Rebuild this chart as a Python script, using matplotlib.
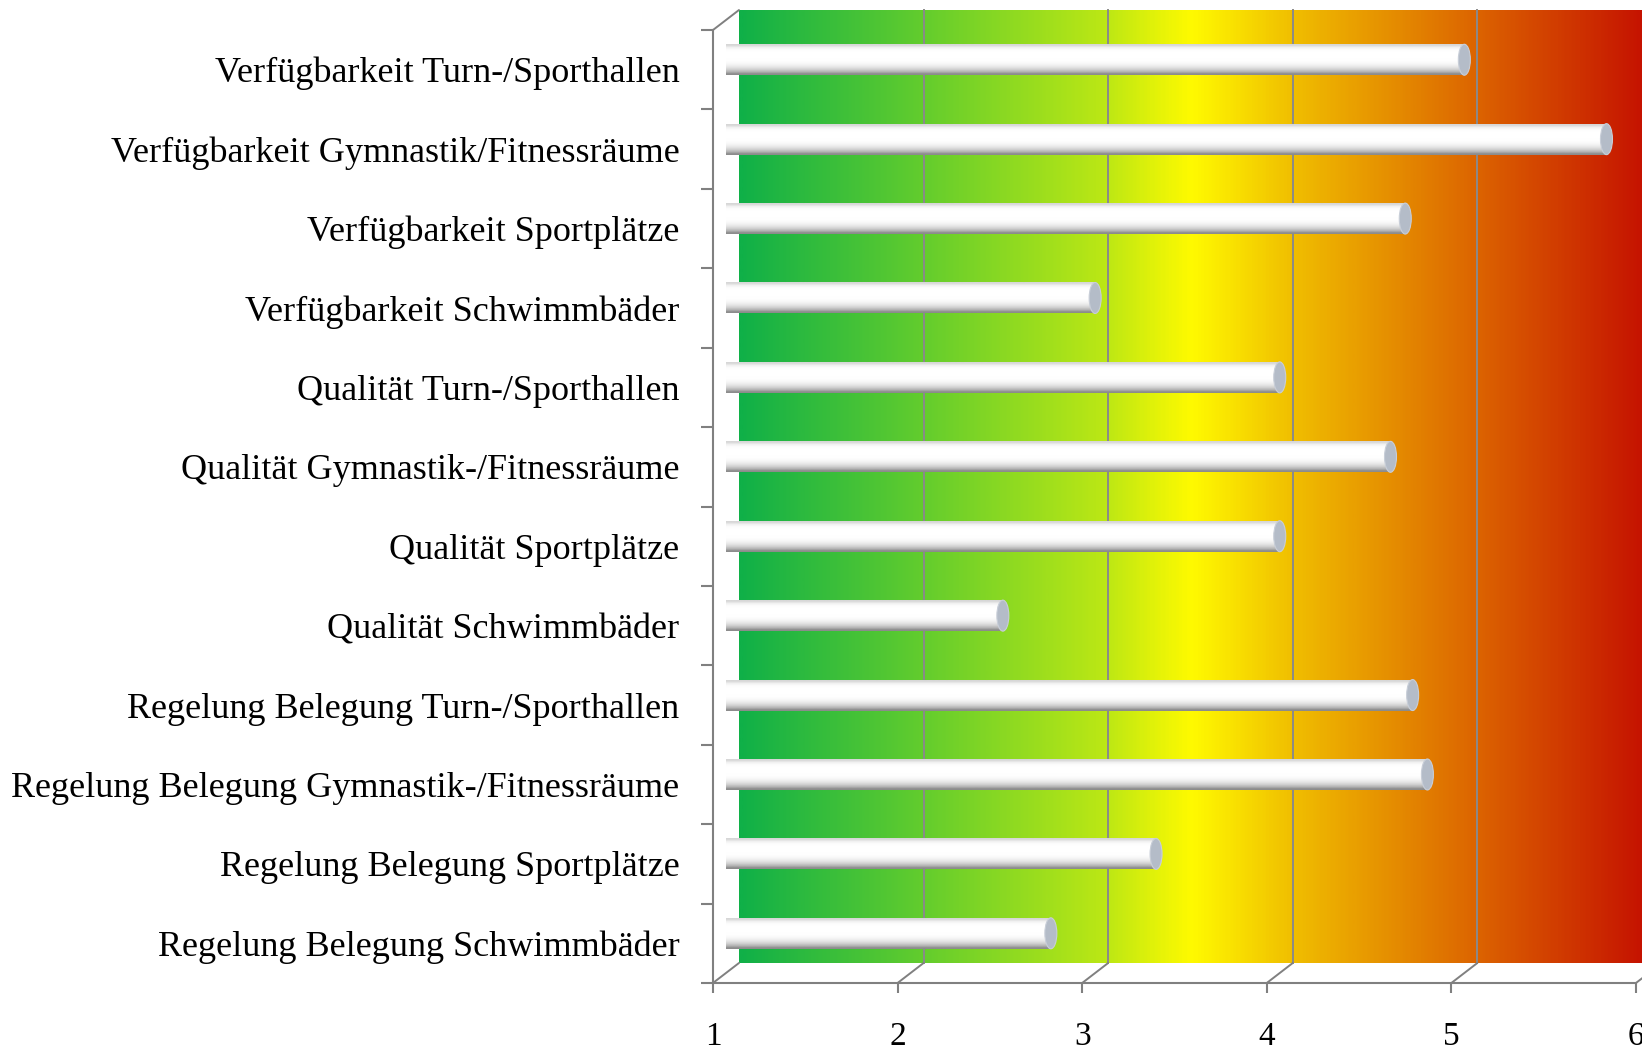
import numpy as np
import matplotlib
matplotlib.use('Agg')
import matplotlib.pyplot as plt
import matplotlib.transforms as mtransforms
from matplotlib.patches import Ellipse
from matplotlib.colors import LinearSegmentedColormap

# data (grades 1 = good ... 6 = bad)
categories = [
    'Verfügbarkeit Turn-/Sporthallen',
    'Verfügbarkeit Gymnastik/Fitnessräume',
    'Verfügbarkeit Sportplätze',
    'Verfügbarkeit Schwimmbäder',
    'Qualität Turn-/Sporthallen',
    'Qualität Gymnastik-/Fitnessräume',
    'Qualität Sportplätze',
    'Qualität Schwimmbäder',
    'Regelung Belegung Turn-/Sporthallen',
    'Regelung Belegung Gymnastik-/Fitnessräume',
    'Regelung Belegung Sportplätze',
    'Regelung Belegung Schwimmbäder',
]
values = [5.0, 5.77, 4.68, 3.0, 4.0, 4.6, 4.0, 2.5, 4.72, 4.8, 3.33, 2.76]
xticks = [1, 2, 3, 4, 5, 6]

# back wall colour ramp (green -> yellow -> red)
wall_stops = [1.0, 2.0, 3.0, 3.45, 4.0, 5.0, 6.0]
wall_colors = ['#10b048', '#64cd2d', '#bee814', '#fffa00', '#f0be00', '#dc6400', '#c30a00']

plt.rcParams['font.family'] = ['Liberation Serif', 'DejaVu Serif']

fig = plt.figure(figsize=(16.42, 10.5), dpi=100)
ax = fig.add_axes([0.4342, 0.0638, 0.5621, 0.9076])

n = len(categories)
xmin, xmax = xticks[0], xticks[-1]

# 3d depth offsets
depth = ax.transData + mtransforms.ScaledTranslation(0.26, 0.20, fig.dpi_scale_trans)
mid = ax.transData + mtransforms.ScaledTranslation(0.13, 0.10, fig.dpi_scale_trans)

#%% back wall
pos = [(s - xmin) / (xmax - xmin) for s in wall_stops]
wall_cmap = LinearSegmentedColormap.from_list('wall', list(zip(pos, wall_colors)))
grad = np.linspace(0, 1, 600).reshape(1, -1)
ax.imshow(grad, cmap=wall_cmap, aspect='auto', extent=(xmin, xmax, n - 0.5, -0.5),
          transform=depth, clip_on=False, zorder=0, interpolation='bilinear')

for x in xticks[1:-1]:
    ax.plot([x, x], [-0.5, n - 0.5], transform=depth, color='#8a8a8a', lw=1.4,
            clip_on=False, zorder=1)

# floor / side diagonals
for x in xticks:
    ax.annotate('', xy=(x, n - 0.5), xytext=(26, 20), textcoords='offset pixels',
                arrowprops=dict(arrowstyle='-', color='#808080', lw=1.4,
                                shrinkA=0, shrinkB=0),
                annotation_clip=False, zorder=1)
ax.annotate('', xy=(xmin, -0.5), xytext=(26, 20), textcoords='offset pixels',
            arrowprops=dict(arrowstyle='-', color='#808080', lw=1.4,
                            shrinkA=0, shrinkB=0),
            annotation_clip=False, zorder=1)

#%% cylinders
h = 0.39
prof = np.array([
    [215, 215, 215], [240, 240, 240], [252, 252, 252], [255, 255, 255],
    [255, 255, 255], [255, 255, 255], [255, 255, 255], [254, 254, 254],
    [250, 250, 250], [242, 242, 242], [228, 228, 228], [208, 208, 208],
    [180, 180, 180], [140, 140, 140],
]) / 255.0
bar_img = prof.reshape(-1, 1, 3)
for i, v in enumerate(values):
    ax.imshow(bar_img, aspect='auto', extent=(xmin, v, i + h / 2, i - h / 2),
              transform=mid, clip_on=False, zorder=3, interpolation='bilinear')
    ax.add_patch(Ellipse((v, i), width=0.065, height=h, transform=mid,
                         facecolor='#b4bcc8', edgecolor='#c8ced8', lw=0.8,
                         zorder=4, clip_on=False))

ax.set_xlim(xmin, xmax)
ax.set_ylim(n - 0.5, -0.5)

#%% axes styling
for s in ['top', 'right']:
    ax.spines[s].set_visible(False)
for s in ['left', 'bottom']:
    ax.spines[s].set_color('#808080')
    ax.spines[s].set_linewidth(1.5)
    ax.spines[s].set_zorder(5)

ax.set_yticks(np.arange(-0.5, n, 1.0))
ax.set_yticklabels([])
ax.set_yticks(np.arange(n), minor=True)
ax.set_yticklabels(categories, minor=True, fontsize=26)
ax.tick_params(axis='y', which='major', length=9, width=1.5, color='#808080')
ax.tick_params(axis='y', which='minor', length=0, pad=24)

ax.set_xticks(xticks)
ax.set_xticklabels([str(t) for t in xticks], fontsize=24)
ax.tick_params(axis='x', length=7, width=1.5, color='#808080', pad=21)

fig.savefig('out.png', dpi=100)
